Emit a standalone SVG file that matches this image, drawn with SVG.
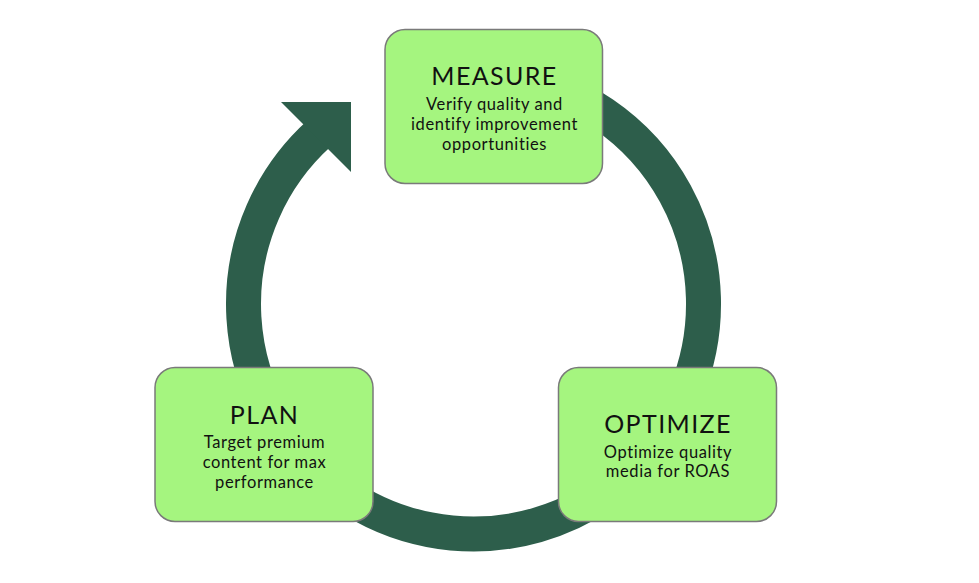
<svg xmlns="http://www.w3.org/2000/svg" width="979" height="583" viewBox="0 0 979 583">
<style>
.box{fill:#a5f57f;stroke:#7a7a7a;stroke-width:1.5}
.title{font-family:Lato,"Liberation Sans",sans-serif;font-size:25px;letter-spacing:1.4px;fill:#111;text-anchor:middle}
.sub{font-family:Lato,"Liberation Sans",sans-serif;font-size:16.5px;letter-spacing:0.6px;fill:#111;text-anchor:middle}
.ring{fill:none;stroke:#2d5e4b;stroke-width:35}
</style>
<rect width="979" height="583" fill="#ffffff"/>
<g id="connectors">
<path class="ring" d="M 513.4 77.5 A 230 230 0 1 1 319.6 133.1"/>
<polygon points="281,102 351,102 351,172" fill="#2d5e4b"/>
</g>
<g id="measure">
<rect class="box" x="385" y="29.5" width="217.5" height="154" rx="20"/>
<text class="title" x="494.5" y="85">MEASURE</text>
<text class="sub" x="494.5" y="109.5">Verify quality and</text>
<text class="sub" x="494.5" y="129.5">identify improvement</text>
<text class="sub" x="494.5" y="149.5">opportunities</text>
</g>
<g id="plan">
<rect class="box" x="155" y="367.5" width="218" height="154" rx="20"/>
<text class="title" x="264.5" y="424">PLAN</text>
<text class="sub" x="264.5" y="447.5">Target premium</text>
<text class="sub" x="264.5" y="467.5">content for max</text>
<text class="sub" x="264.5" y="487.5">performance</text>
</g>
<g id="optimize">
<rect class="box" x="558.5" y="367.5" width="218" height="154" rx="20"/>
<text class="title" x="668" y="432.5">OPTIMIZE</text>
<text class="sub" x="668" y="457.5">Optimize quality</text>
<text class="sub" x="668" y="477">media for ROAS</text>
</g>
</svg>
